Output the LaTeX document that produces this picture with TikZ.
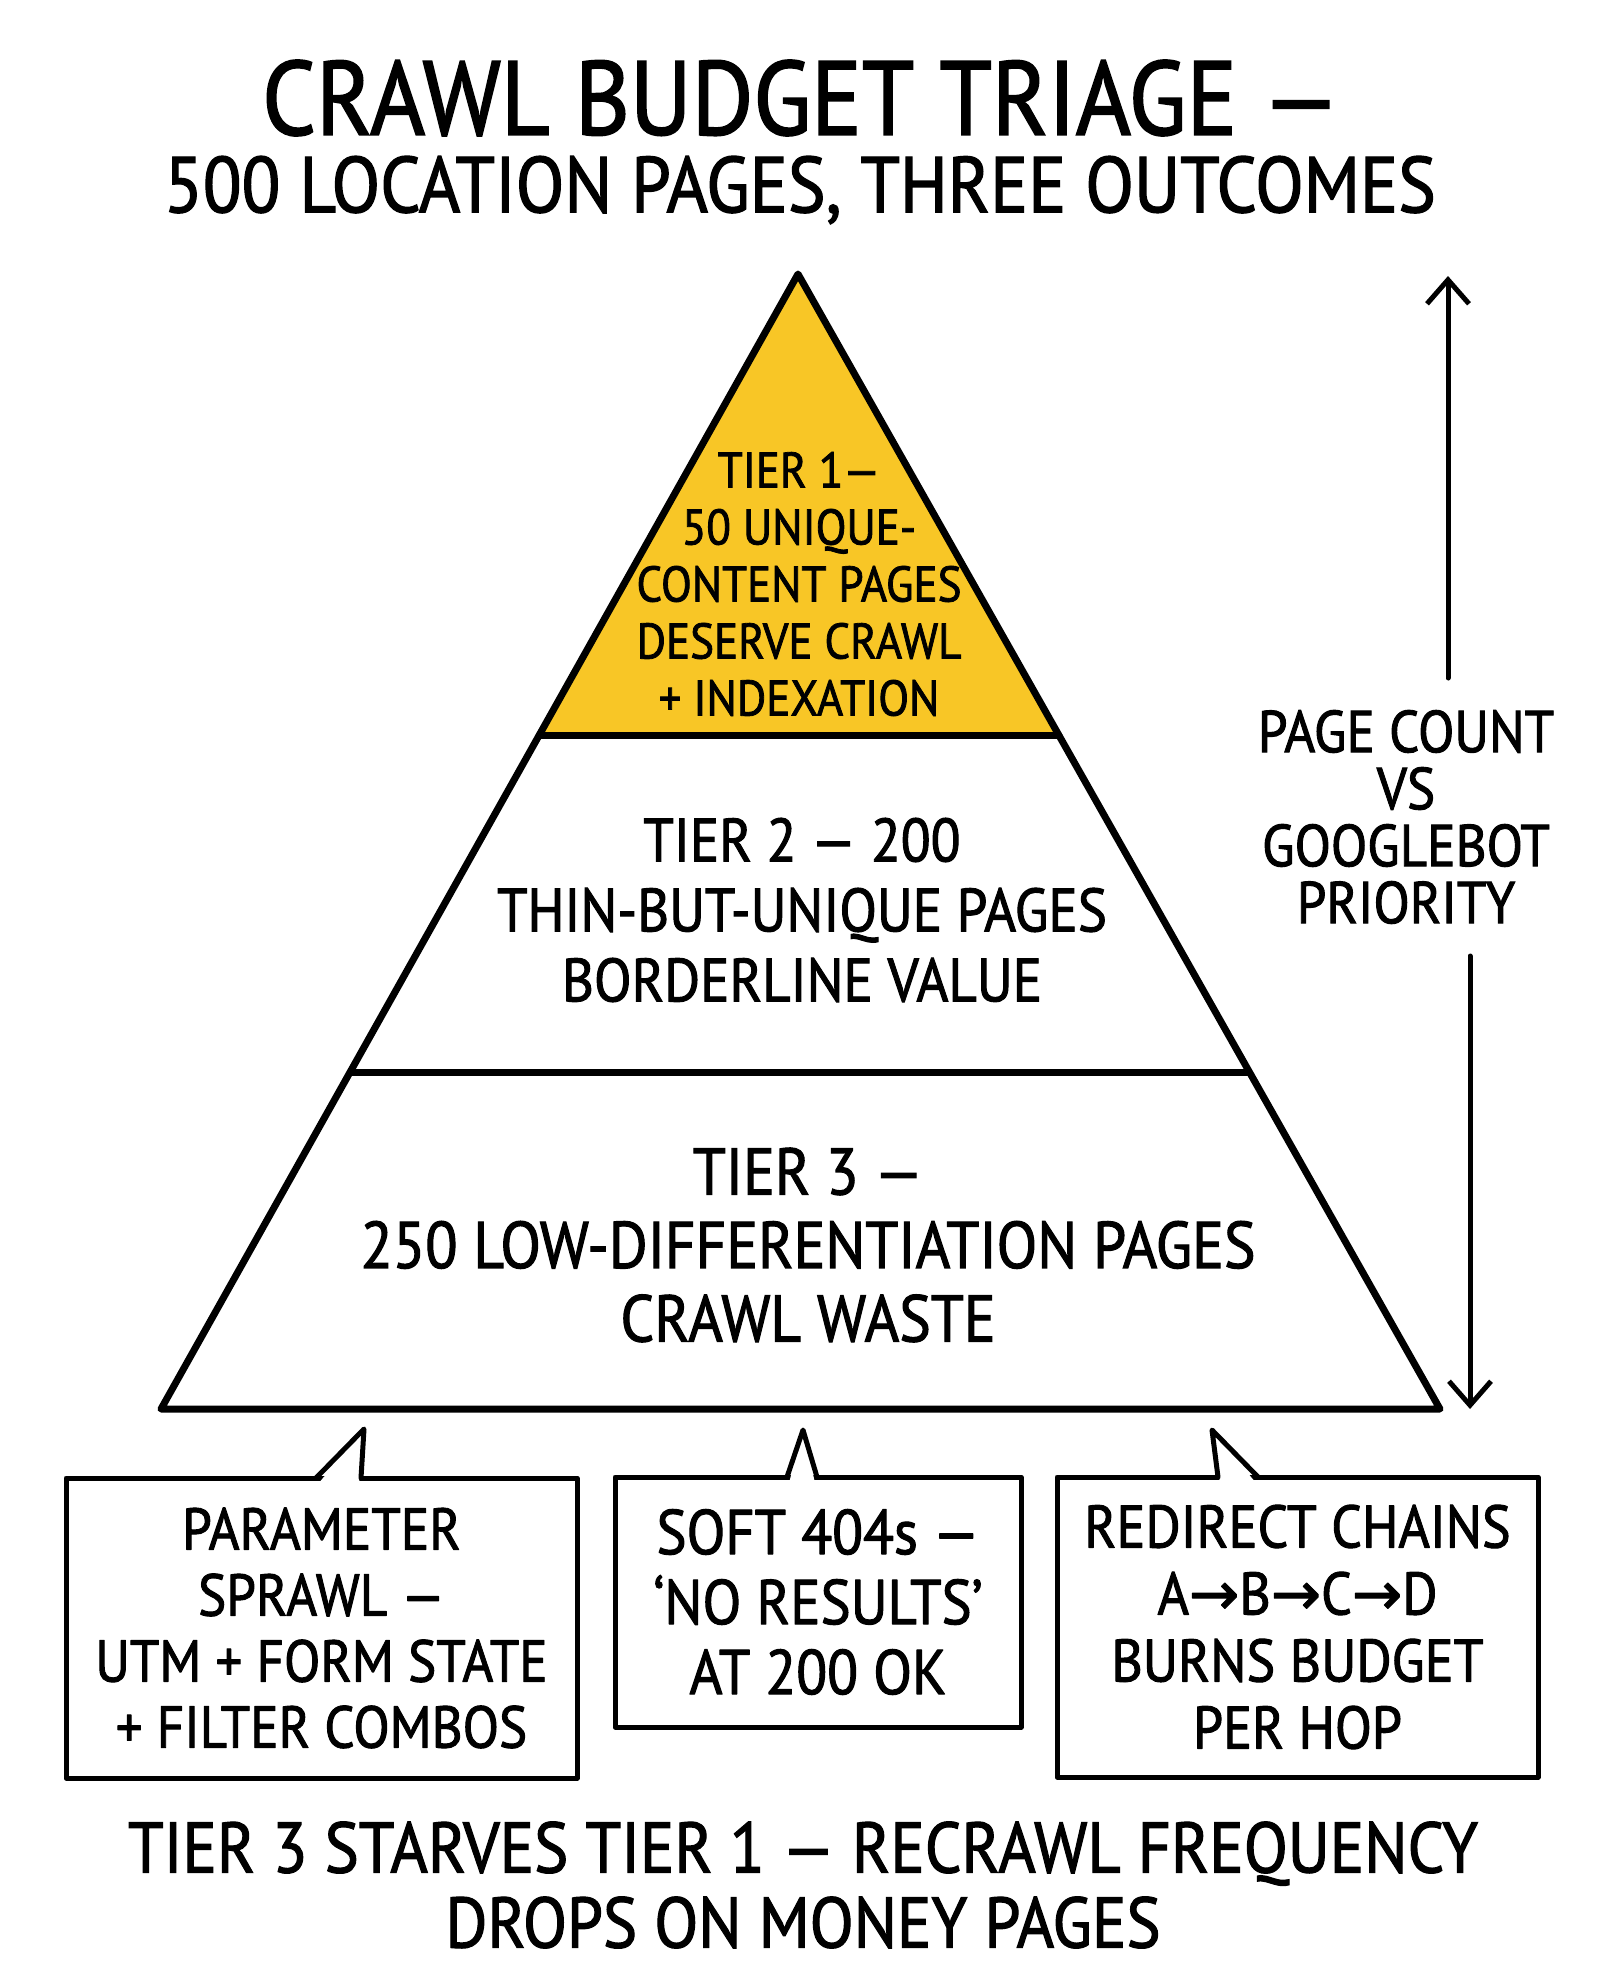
\documentclass[tikz,border=0pt]{standalone}
\usepackage{fontspec}
\setmainfont{PT Sans}
\newfontfamily\hand[FakeStretch=0.9,FakeBold=1.6]{PT Sans}
\newfontfamily\symfont[FakeBold=1.6]{DejaVu Sans}
\usetikzlibrary{arrows.meta}
\definecolor{tieryellow}{RGB}{248,198,38}
\newcommand{\fsz}[2]{\fontsize{#1}{#2}\selectfont}
\begin{document}
\begin{tikzpicture}[x=1pt,y=-1pt,
  txt/.style={font=\hand, align=center, inner sep=0pt, text=black},
  pyr/.style={line width=7pt, line join=round, line cap=round},
  arr/.style={line width=5pt, line cap=round, -{Straight Barb[length=24pt,width=42pt]}},
  callbox/.style={draw, rectangle, line width=5pt, line join=round, fill=white, align=center, inner sep=0pt, font=\hand},
  ptr/.style={line width=5pt, line join=round, line cap=round}]
\useasboundingbox[fill=white] (0,0) rectangle (1600,1986);

% title
\node[txt, font=\hand\fsz{105}{110}] (title1) at (801,98) {CRAWL BUDGET TRIAGE —};
\node[txt, font=\hand\fsz{79}{80}] (title2) at (800,190) {500 LOCATION PAGES, THREE OUTCOMES};

% pyramid
\coordinate (apex) at (798,274);
\coordinate (bl) at (161,1409);
\coordinate (br) at (1440,1409);
\coordinate (t1l) at (539,735);
\coordinate (t1r) at (1059,735);
\coordinate (t2l) at (350,1072);
\coordinate (t2r) at (1248,1072);
\fill[tieryellow] (apex) -- (t1r) -- (t1l) -- cycle;
\draw[pyr] (apex) -- (br) -- (bl) -- cycle;
\draw[pyr] (t1l) -- (t1r);
\draw[pyr] (t2l) -- (t2r);

\node[txt, font=\hand\fsz{50}{57}] (tier1) at (799,584) {TIER 1—\\50 UNIQUE-\\CONTENT PAGES\\DESERVE CRAWL\\+ INDEXATION};
\node[txt, font=\hand\fsz{61}{70}] (tier2) at (802,910) {TIER 2 — 200\\THIN-BUT-UNIQUE PAGES\\BORDERLINE VALUE};
\node[txt, font=\hand\fsz{66}{73.5}] (tier3) at (808,1245) {TIER 3 —\\250 LOW-DIFFERENTIATION PAGES\\CRAWL WASTE};

% right axis
\node[txt, font=\hand\fsz{59}{57}] (axis) at (1406,817) {PAGE COUNT\\VS\\GOOGLEBOT\\PRIORITY};
\coordinate (upS) at (1448,678);
\coordinate (upE) at (1448,276);
\coordinate (dnS) at (1470,956);
\coordinate (dnE) at (1470,1409);
\draw[arr] (upS) -- (upE);
\draw[arr] (dnS) -- (dnE);

% callouts
\node[callbox, minimum width=511pt, minimum height=300pt, font=\hand\fsz{59}{66}] (c1) at (321.5,1628) {PARAMETER\\SPRAWL —\\UTM + FORM STATE\\+ FILTER COMBOS};
\coordinate (c1a) at (316,1478);
\coordinate (c1t) at (364,1429);
\coordinate (c1b) at (361,1478);
\fill[white] (318,1484) -- (c1t) -- (359,1484) -- cycle;
\draw[ptr] (c1a) -- (c1t) -- (c1b);

\node[callbox, minimum width=406pt, minimum height=250pt, font=\hand\fsz{63}{70}] (c2) at (818,1602) {SOFT 404s —\\‘NO RESULTS’\\AT 200 OK};
\coordinate (c2a) at (787,1477);
\coordinate (c2t) at (803,1430);
\coordinate (c2b) at (817,1477);
\fill[white] (789,1483) -- (c2t) -- (815,1483) -- cycle;
\draw[ptr] (c2a) -- (c2t) -- (c2b);

\node[callbox, minimum width=481pt, minimum height=300pt, font=\hand\fsz{60}{67}] (c3) at (1297.5,1627) {REDIRECT CHAINS\\A{\symfont→}B{\symfont→}C{\symfont→}D\\BURNS BUDGET\\PER HOP};
\coordinate (c3a) at (1218,1477);
\coordinate (c3t) at (1212,1430);
\coordinate (c3b) at (1258,1477);
\fill[white] (1220,1483) -- (c3t) -- (1256,1483) -- cycle;
\draw[ptr] (c3a) -- (c3t) -- (c3b);

% footer
\node[txt, font=\hand\fsz{71.5}{75}] (foot) at (803,1885) {TIER 3 STARVES TIER 1 — RECRAWL FREQUENCY\\DROPS ON MONEY PAGES};
\end{tikzpicture}
\end{document}
